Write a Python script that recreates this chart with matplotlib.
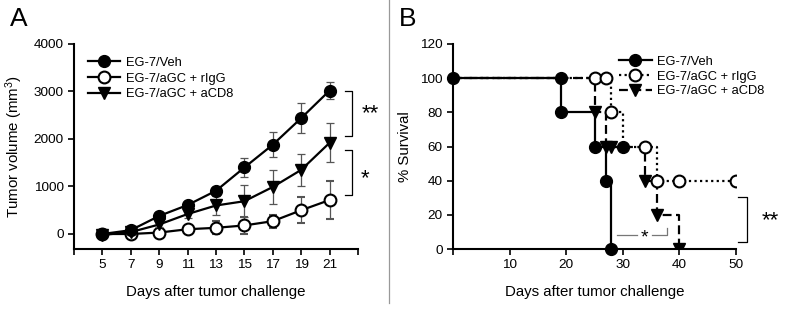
import matplotlib
matplotlib.use("Agg")
import matplotlib.pyplot as plt
from matplotlib.lines import Line2D

plt.rcParams['font.family'] = ['Liberation Sans', 'DejaVu Sans']
plt.rcParams['mathtext.fontset'] = 'custom'
plt.rcParams['mathtext.rm'] = 'Liberation Sans'
plt.rcParams['mathtext.it'] = 'Liberation Sans'
plt.rcParams['mathtext.bf'] = 'Liberation Sans:bold'

# ---------------- Panel A data ----------------
days = [5, 7, 9, 11, 13, 15, 17, 19, 21]
veh_vol = [0, 80, 380, 610, 910, 1400, 1880, 2440, 3020]
veh_err = [30, 40, 60, 70, 80, 200, 260, 320, 180]
rigg_vol = [0, 0, 30, 100, 130, 180, 270, 500, 715]
rigg_err = [20, 20, 40, 60, 140, 180, 140, 270, 400]
acd8_vol = [-20, 40, 200, 420, 600, 690, 990, 1350, 1920]
acd8_err = [20, 30, 60, 90, 200, 340, 350, 340, 410]
tick_days = [3, 5, 7, 9, 11, 13, 15, 17, 19, 21, 23]
tick_day_labels = ['', '5', '7', '9', '11', '13', '15', '17', '19', '21', '']
vol_ticks = [0, 1000, 2000, 3000, 4000]

# ---------------- Panel B data ----------------
veh_t = [0, 19, 19, 25, 25, 27, 27, 28, 28]
veh_s = [100, 100, 80, 80, 60, 60, 40, 40, 0]
veh_extra_t = [27, 30]
veh_extra_s = [60, 60]
veh_mk_t = [0, 19, 19, 25, 27, 28, 30]
veh_mk_s = [100, 100, 80, 60, 40, 0, 60]

rigg_t = [0, 28, 28, 30, 30, 36, 36, 50]
rigg_s = [100, 100, 80, 80, 60, 60, 40, 40]
rigg_mk_t = [25, 27, 28, 34, 36, 40, 50]
rigg_mk_s = [100, 100, 80, 60, 40, 40, 40]

acd8_t = [0, 25, 25, 27, 27, 34, 34, 36, 36, 40, 40]
acd8_s = [100, 100, 80, 80, 60, 60, 40, 40, 20, 20, 0]
acd8_mk_t = [25, 27, 28, 34, 36, 40]
acd8_mk_s = [80, 60, 60, 40, 20, 0]

surv_ticks = [0, 20, 40, 60, 80, 100, 120]
surv_day_ticks = [0, 10, 20, 30, 40, 50]
surv_day_labels = ['', '10', '20', '30', '40', '50']

labels = ['EG-7/Veh', 'EG-7/aGC + rIgG', 'EG-7/aGC + aCD8']

W, H = 785, 310
fig = plt.figure(figsize=(W / 100, H / 100), dpi=100)

def box(l, r, t, b):
    return [l / W, 1 - b / H, (r - l) / W, (b - t) / H]

LW = 1.6
MS = 8.5
TFS = 9.7
LFS = 9.3
AFS = 10.8

# ---------- Panel A ----------
axA = fig.add_axes(box(74, 358, 44, 249))
ecol = '#555555'
common = dict(lw=LW, color='black', ms=MS, elinewidth=0.9, ecolor=ecol, capsize=3, capthick=0.9)
axA.errorbar(days, rigg_vol, yerr=rigg_err, marker='o', mfc='white', mec='black', mew=1.5, zorder=3, **common)
axA.errorbar(days, acd8_vol, yerr=acd8_err, marker='v', mfc='black', zorder=4, **common)
axA.errorbar(days, veh_vol, yerr=veh_err, marker='o', mfc='black', zorder=5, **common)
axA.set_xlim(3, 23)
axA.set_ylim(-316, 4000)
axA.set_xticks(tick_days)
axA.set_xticklabels(tick_day_labels)
axA.set_yticks(vol_ticks)
for s in ['top', 'right']:
    axA.spines[s].set_visible(False)
for s in ['left', 'bottom']:
    axA.spines[s].set_linewidth(1.5)
axA.tick_params(width=1.2, length=4, labelsize=TFS)
axA.set_xlabel('Days after tumor challenge', fontsize=AFS, labelpad=10)
axA.set_ylabel('Tumor volume (mm$^{3}$)', fontsize=AFS, labelpad=6)

hA = [Line2D([], [], color='black', lw=LW, marker='o', mfc='black', ms=MS),
      Line2D([], [], color='black', lw=LW, marker='o', mfc='white', mew=1.5, ms=MS),
      Line2D([], [], color='black', lw=LW, marker='v', mfc='black', ms=MS)]
axA.legend(hA, labels, loc='upper left', bbox_to_anchor=(0.025, 0.97), frameon=False,
           fontsize=LFS, handlelength=2.5, handletextpad=0.45, labelspacing=0.3, borderpad=0)

# brackets A
bk = dict(color='black', lw=0.9, clip_on=False)
axA.plot([22.08, 22.58, 22.58, 22.08], [3017, 3017, 2056, 2056], **bk)
axA.plot([22.08, 22.58, 22.58, 22.08], [1775, 1775, 830, 830], **bk)
axA.text(23.85, 2540, '**', fontsize=16, ha='center', va='center', clip_on=False)
axA.text(23.5, 1170, '*', fontsize=16, ha='center', va='center', clip_on=False)

# ---------- Panel B ----------
axB = fig.add_axes(box(453, 736, 44, 249))
axB.plot(rigg_t, rigg_s, color='black', lw=LW, ls=(0, (1, 1.5)), zorder=2)
axB.plot(rigg_mk_t, rigg_mk_s, ls='none', marker='o', mfc='white', mec='black', mew=1.5, ms=MS, zorder=4)
axB.plot(acd8_t, acd8_s, color='black', lw=LW, ls=(0, (4, 2)), zorder=3)
axB.plot(acd8_mk_t, acd8_mk_s, ls='none', marker='v', color='black', ms=MS, zorder=5)
axB.plot(veh_t, veh_s, color='black', lw=LW, zorder=3)
axB.plot(veh_extra_t, veh_extra_s, color='black', lw=LW, zorder=3)
axB.plot(veh_mk_t, veh_mk_s, ls='none', marker='o', color='black', ms=MS, zorder=6, clip_on=False)
axB.set_xlim(0, 50)
axB.set_ylim(0, 120)
axB.set_xticks(surv_day_ticks)
axB.set_xticklabels(surv_day_labels)
axB.set_yticks(surv_ticks)
for s in ['top', 'right']:
    axB.spines[s].set_visible(False)
for s in ['left', 'bottom']:
    axB.spines[s].set_linewidth(1.5)
axB.tick_params(width=1.2, length=4, labelsize=TFS)
axB.set_xlabel('Days after tumor challenge', fontsize=AFS, labelpad=10)
axB.set_ylabel('% Survival', fontsize=AFS, labelpad=6)

hB = [Line2D([], [], color='black', lw=LW, marker='o', mfc='black', ms=MS),
      Line2D([], [], color='black', lw=LW, ls=(0, (1, 1.5)), marker='o', mfc='white', mew=1.5, ms=MS),
      Line2D([], [], color='black', lw=LW, ls=(0, (4, 2)), marker='v', mfc='black', ms=MS)]
axB.legend(hB, labels, loc='upper left', bbox_to_anchor=(0.565, 0.975), frameon=False,
           fontsize=LFS, handlelength=2.5, handletextpad=0.45, labelspacing=0.22, borderpad=0)

axB.plot([50.35, 51.9, 51.9, 50.35], [30.5, 30.5, 4.3, 4.3], **bk)
axB.text(56, 16.5, '**', fontsize=16, ha='center', va='center', clip_on=False)
gk = dict(color='#777777', lw=0.9, clip_on=False)
axB.plot([28.9, 32.5], [8.2, 8.2], **gk)
axB.plot([35.1, 37.8, 37.8], [8.2, 8.2, 12.5], **gk)
axB.text(33.8, 6.5, '*', fontsize=14, ha='center', va='center')

# panel letters & divider
fig.text(10 / W, 1 - 19 / H, 'A', fontsize=19, ha='left', va='center')
fig.text(399 / W, 1 - 19 / H, 'B', fontsize=19, ha='left', va='center')
fig.add_artist(Line2D([389 / W, 389 / W], [1 - 0 / H, 1 - 303 / H], color='#999999', lw=0.9))

fig.savefig('out.png', dpi=100)
